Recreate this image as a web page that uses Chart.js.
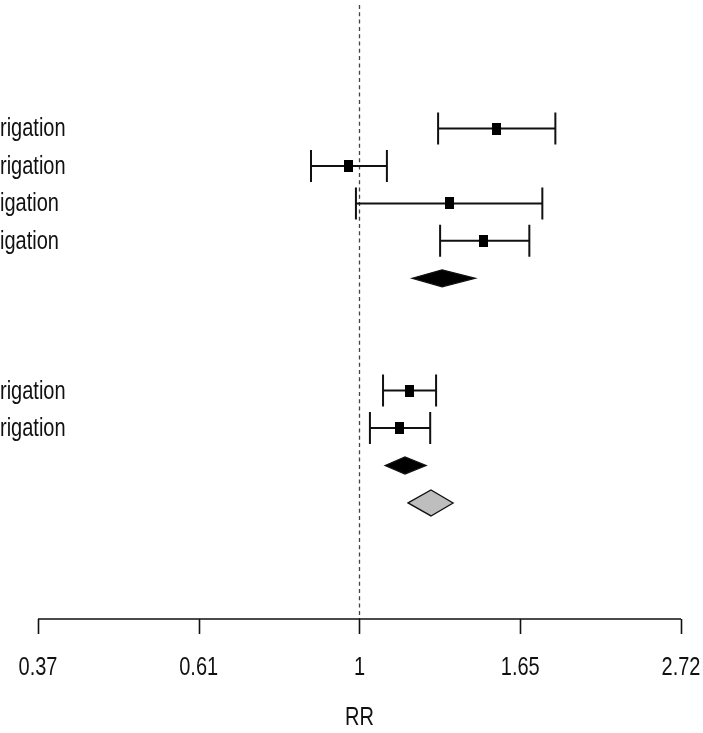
<!DOCTYPE html>
<html>
<head>
<meta charset="utf-8">
<script src="https://cdn.jsdelivr.net/npm/chart.js@4"></script>
<style>
  html, body { margin: 0; padding: 0; background: #fff; }
  #forest { display: block; }
</style>
</head>
<body>
<canvas id="forest" width="703" height="733"></canvas>
<script>
// study rows (0 = top row), labels as they appear (cut at the left edge)
const rowLabels = ['rigation', 'rigation', 'igation', 'igation', 'rigation', 'rigation'];
const studyRows = [0, 1, 2, 3, 7, 8];
const estimates = [1.530, 0.965, 1.322, 1.469, 1.167, 1.134];
const lowerCI = [1.277, 0.860, 0.989, 1.285, 1.076, 1.033];
const upperCI = [1.839, 1.089, 1.766, 1.696, 1.269, 1.246];

// pooled estimates (two subgroups + overall)
const summaryRows = [4, 9, 10];
const summaryEst = [1.293, 1.152, 1.249];
const summaryLower = [1.178, 1.083, 1.163];
const summaryUpper = [1.433, 1.230, 1.338];

const tickValues = [0.3679, 0.6065, 1, 1.6487, 2.7183];
const tickLabels = ['0.37', '0.61', '1', '1.65', '2.72'];
const axisTitle = 'RR';

const FONT = '"Liberation Sans", Arial, sans-serif';

// narrow text: the reference font is condensed, so squeeze it horizontally
function narrowText(ctx, text, x, y, size, squeeze) {
    ctx.save();
    ctx.font = size + 'px ' + FONT;
    ctx.translate(x, y);
    ctx.scale(squeeze, 1);
    ctx.fillText(text, 0, 0);
    ctx.restore();
}

// 9x12 black square marker
let square = document.createElement('canvas');
square.width = 9;
square.height = 12;
let sq = square.getContext('2d');
sq.fillStyle = '#000';
sq.fillRect(0, 0, 9, 12);

let points = estimates.map((v, i) => ({ x: v, y: studyRows[i] }));

const forestPlugin = {
    id: 'forest',
    beforeDatasetsDraw(chart) {
        const ctx = chart.ctx;
        const xs = chart.scales.x;
        const ys = chart.scales.y;
        const area = chart.chartArea;

        // reference line at RR = 1
        ctx.save();
        ctx.strokeStyle = '#444';
        ctx.lineWidth = 1.3;
        ctx.setLineDash([4, 3.3]);
        let x1 = Math.round(xs.getPixelForValue(1)) + 0.5;
        ctx.beginPath();
        ctx.moveTo(x1, area.top);
        ctx.lineTo(x1, area.bottom);
        ctx.stroke();
        ctx.restore();

        // confidence intervals
        ctx.save();
        ctx.strokeStyle = '#111';
        ctx.lineWidth = 2;
        studyRows.forEach((r, i) => {
            let y = ys.getPixelForValue(r);
            let xl = xs.getPixelForValue(lowerCI[i]);
            let xu = xs.getPixelForValue(upperCI[i]);
            ctx.beginPath();
            ctx.moveTo(xl, y);
            ctx.lineTo(xu, y);
            ctx.moveTo(xl, y - 16);
            ctx.lineTo(xl, y + 16);
            ctx.moveTo(xu, y - 16);
            ctx.lineTo(xu, y + 16);
            ctx.stroke();
        });
        ctx.restore();
    },
    afterDatasetsDraw(chart) {
        const ctx = chart.ctx;
        const xs = chart.scales.x;
        const ys = chart.scales.y;
        const area = chart.chartArea;

        // diamonds
        summaryRows.forEach((r, i) => {
            let overall = i === summaryRows.length - 1;
            let h = overall ? 13 : 8.5;
            let y = ys.getPixelForValue(r);
            ctx.save();
            ctx.beginPath();
            ctx.moveTo(xs.getPixelForValue(summaryLower[i]), y);
            ctx.lineTo(xs.getPixelForValue(summaryEst[i]), y - h);
            ctx.lineTo(xs.getPixelForValue(summaryUpper[i]), y);
            ctx.lineTo(xs.getPixelForValue(summaryEst[i]), y + h);
            ctx.closePath();
            ctx.fillStyle = overall ? '#bebebe' : '#000';
            ctx.fill();
            ctx.strokeStyle = '#111';
            ctx.lineWidth = 1.3;
            ctx.stroke();
            ctx.restore();
        });

        // row labels
        ctx.save();
        ctx.fillStyle = '#111';
        ctx.textAlign = 'left';
        ctx.textBaseline = 'middle';
        studyRows.forEach((r, i) => {
            narrowText(ctx, rowLabels[i], 0, ys.getPixelForValue(r) + 1, 25, 0.8);
        });
        ctx.restore();

        // x axis, R style
        ctx.save();
        ctx.strokeStyle = '#111';
        ctx.lineWidth = 1.6;
        let yAxis = area.bottom;
        let first = xs.getPixelForValue(tickValues[0]);
        let last = xs.getPixelForValue(tickValues[tickValues.length - 1]);
        ctx.beginPath();
        ctx.moveTo(first, yAxis);
        ctx.lineTo(last, yAxis);
        tickValues.forEach(v => {
            let px = Math.round(xs.getPixelForValue(v)) + 0.5;
            ctx.moveTo(px, yAxis);
            ctx.lineTo(px, yAxis + 15);
        });
        ctx.stroke();

        ctx.fillStyle = '#111';
        ctx.textAlign = 'center';
        ctx.textBaseline = 'middle';
        tickValues.forEach((v, i) => {
            narrowText(ctx, tickLabels[i], xs.getPixelForValue(v), yAxis + 49, 26, 0.77);
        });
        narrowText(ctx, axisTitle, xs.getPixelForValue(1), yAxis + 99, 26, 0.77);
        ctx.restore();
    }
};

const forestChart = new Chart(document.getElementById('forest'), {
    type: 'scatter',
    data: {
        datasets: [{
            label: 'RR',
            data: points,
            pointStyle: square,
            backgroundColor: '#000',
            borderColor: '#000'
        }]
    },
    options: {
        responsive: false,
        devicePixelRatio: 1,
        animation: false,
        layout: { padding: { left: 38, right: 22, top: 0, bottom: 114 } },
        plugins: {
            legend: { display: false },
            tooltip: { enabled: false }
        },
        scales: {
            x: {
                type: 'logarithmic',
                bounds: 'data',
                min: tickValues[0],
                max: tickValues[tickValues.length - 1],
                display: false
            },
            y: {
                type: 'linear',
                reverse: true,
                min: -3.3,
                max: 13.1,
                display: false
            }
        }
    },
    plugins: [forestPlugin]
});
</script>
</body>
</html>
